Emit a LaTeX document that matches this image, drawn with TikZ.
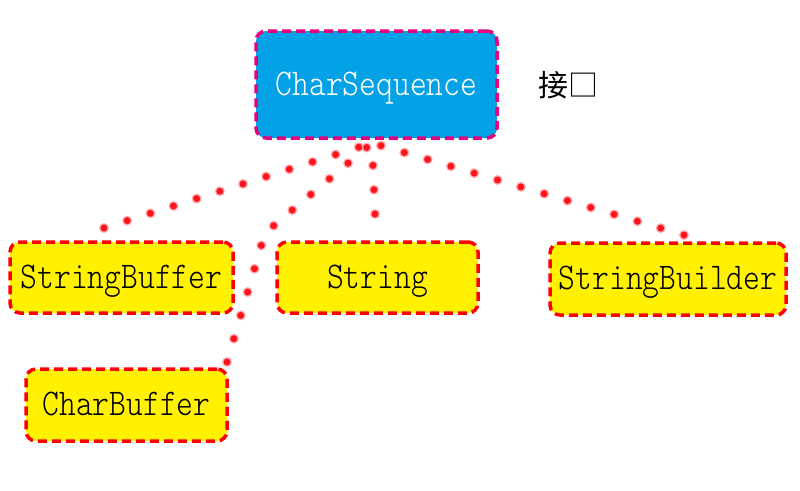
\documentclass[tikz,border=0pt]{standalone}
\usepackage{fontspec}
\newfontfamily\cjk{Noto Sans CJK SC}
\newfontfamily\lightmono{lmmonolt10-regular.otf}
\definecolor{seqblue}{RGB}{3,161,230}
\definecolor{seqborder}{RGB}{230,0,126}
\definecolor{boxyellow}{RGB}{255,241,0}
\definecolor{dotred}{RGB}{255,20,30}
\newcommand{\tallt}[1]{\scalebox{1}[1.18]{#1}}
\tikzset{
  base/.style={rounded corners=10pt, line width=3.5pt, dash pattern=on 9pt off 5pt,
    font=\fontsize{32}{36}\selectfont\lightmono, inner sep=0pt, anchor=center,
    text height=25pt, text depth=4pt},
  ifacebox/.style={base, fill=seqblue, draw=seqborder, text=white},
  classbox/.style={base, fill=boxyellow, draw=red, text=black},
  dotline/.style={draw=dotred!35, line width=10pt, line cap=round, dash pattern=on 0pt off 24.3pt,
    postaction={draw=dotred, line width=7pt, line cap=round, dash pattern=on 0pt off 24.3pt}},
  label/.style={font=\fontsize{30}{34}\selectfont\cjk, text=black, inner sep=0pt}
}
\begin{document}
\begin{tikzpicture}[x=1pt,y=-1pt]
\path[use as bounding box, fill=white] (0,0) rectangle (800,490);
% connectors (drawn first, under boxes)
\coordinate (hub) at (372,143);
\coordinate (sbEnd) at (104,228);
\coordinate (cbBend) at (265,233);
\coordinate (cbEnd) at (227,362);
\coordinate (strEnd) at (375,214);
\coordinate (sblEnd) at (684,235);
\draw[dotline] (sbEnd) -- (hub);
\draw[dotline] (cbEnd) -- (cbBend) -- (hub);
\draw[dotline] (strEnd) -- (hub);
\draw[dotline] (sblEnd) -- (hub);
% nodes
\node[ifacebox, minimum width=241pt, minimum height=107pt] (seq) at (376.5,84.5) {\tallt{CharSequence}};
\node[label] (lbl) at (568,85) {接□};
\node[classbox, minimum width=223pt, minimum height=71pt] (sb) at (121.5,277.5) {\tallt{StringBuffer}};
\node[classbox, minimum width=201pt, minimum height=71pt] (str) at (377.5,277.5) {\tallt{String}};
\node[classbox, minimum width=236pt, minimum height=72pt] (sbl) at (668,279) {\tallt{StringBuilder}};
\node[classbox, minimum width=201pt, minimum height=72pt] (cb) at (126.5,405) {\tallt{CharBuffer}};
\end{tikzpicture}
\end{document}
